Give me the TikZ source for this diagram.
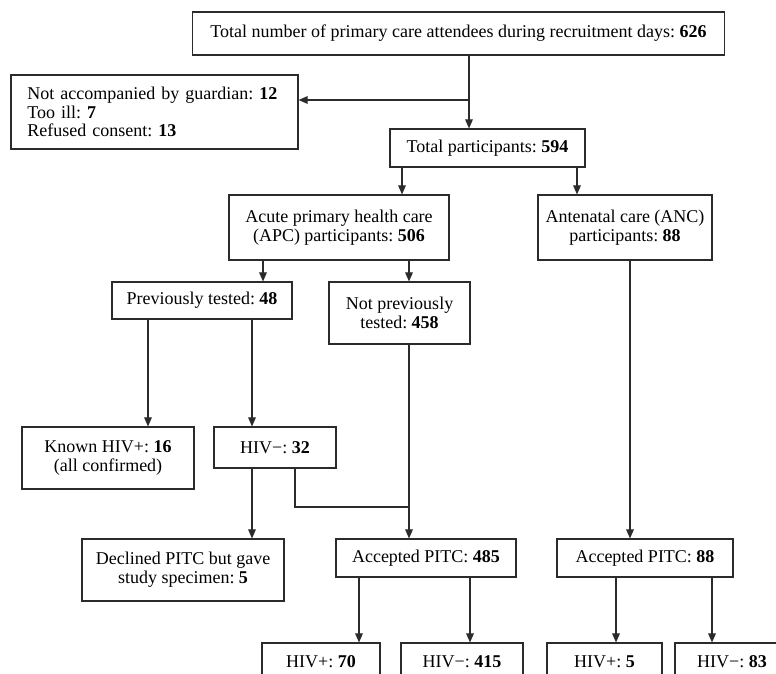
\documentclass[tikz,border=0pt]{standalone}
\usepackage{fontspec}
\setmainfont{Liberation Serif}
\usetikzlibrary{arrows.meta,positioning,calc}
\definecolor{boxline}{HTML}{2B2B2B}
\frenchspacing

\begin{document}
\begin{tikzpicture}[
		x=0.025cm,y=-0.025cm,
		box/.style={draw=boxline,line width=0.8pt,align=center,inner sep=2pt,font=\fontsize{12.8}{13.4}\selectfont},
		arr/.style={-{Triangle[length=6.5pt,width=5.5pt]},line width=0.8pt,boxline},
		ln/.style={line width=0.8pt,boxline}
		]
		\useasboundingbox (0,0) rectangle (776,673);
		\clip (0,0) rectangle (776,673);
		% boxes
		\node[box,minimum width=13.275cm,minimum height=1.075cm] (attend) at (458.5,33.5) {Total number of primary care attendees during recruitment days: \textbf{626}};
		\node[box,align=left,text width=6.35cm,inner xsep=0.4125cm,minimum height=1.85cm] (excl) at (154.5,112) {Not accompanied by guardian: \textbf{12}\\Too ill: \textbf{7}\\Refused consent: \textbf{13}};
		\node[box,minimum width=4.875cm,minimum height=0.95cm] (total) at (487.5,148) {Total participants: \textbf{594}};
		\node[box,minimum width=5.5cm,minimum height=1.625cm] (apc) at (339,227.5) {Acute primary health care\\(APC) participants: \textbf{506}};
		\node[box,minimum width=4.35cm,minimum height=1.625cm] (anc) at (625,227.5) {Antenatal care (ANC)\\participants: \textbf{88}};
		\node[box,minimum width=4.5cm,minimum height=0.925cm] (prev) at (202,300.5) {Previously tested: \textbf{48}};
		\node[box,minimum width=3.525cm,minimum height=1.55cm] (notprev) at (399.5,313) {Not previously\\tested: \textbf{458}};
		\node[box,minimum width=4.3cm,minimum height=1.55cm] (known) at (108,458) {Known HIV+: \textbf{16}\\(all confirmed)};
		\node[box,minimum width=3.05cm,minimum height=1.025cm] (neg32) at (275,447.5) {HIV−: \textbf{32}};
		\node[box,minimum width=5.05cm,minimum height=1.55cm] (decl) at (183,570) {Declined PITC but gave\\study specimen: \textbf{5}};
		\node[box,minimum width=4.5cm,minimum height=0.95cm] (acc1) at (426,558) {Accepted PITC: \textbf{485}};
		\node[box,minimum width=4.4cm,minimum height=0.95cm] (acc2) at (645,558) {Accepted PITC: \textbf{88}};
		\node[box,minimum width=2.95cm,minimum height=0.95cm] (pos70) at (321,662) {HIV+: \textbf{70}};
		\node[box,minimum width=3.05cm,minimum height=0.95cm] (neg415) at (462,662) {HIV−: \textbf{415}};
		\node[box,minimum width=2.875cm,minimum height=0.95cm] (pos5) at (604.5,662) {HIV+: \textbf{5}};
		\node[box,minimum width=2.85cm,minimum height=0.95cm] (neg83) at (732,662) {HIV−: \textbf{83}};
		% connector columns
		\coordinate (split) at (469,100);
		\coordinate (join) at (409,507);
		\foreach \n/\x in {apcx/402,ancx/577,prevx/263,notx/409,knownx/148,negx/252,joinx/295,anccol/630,pos70x/359,neg415x/470,pos5x/616,neg83x/712}
			\coordinate (\n) at (\x,0);
		% connectors
		\draw[ln] (attend.south -| split) -- (split);
		\draw[arr] (split) -- (split |- total.north);
		\draw[arr] (split) -- (split -| excl.east);
		\draw[arr] (total.south -| apcx) -- (apc.north -| apcx);
		\draw[arr] (total.south -| ancx) -- (anc.north -| ancx);
		\draw[arr] (apc.south -| prevx) -- (prev.north -| prevx);
		\draw[arr] (apc.south -| notx) -- (notprev.north -| notx);
		\draw[arr] (prev.south -| knownx) -- (known.north -| knownx);
		\draw[arr] (prev.south -| negx) -- (neg32.north -| negx);
		\draw[arr] (neg32.south -| negx) -- (decl.north -| negx);
		\draw[ln] (neg32.south -| joinx) |- (join);
		\draw[arr] (notprev.south -| notx) -- (acc1.north -| notx);
		\draw[arr] (anc.south -| anccol) -- (acc2.north -| anccol);
		\draw[arr] (acc1.south -| pos70x) -- (pos70.north -| pos70x);
		\draw[arr] (acc1.south -| neg415x) -- (neg415.north -| neg415x);
		\draw[arr] (acc2.south -| pos5x) -- (pos5.north -| pos5x);
		\draw[arr] (acc2.south -| neg83x) -- (neg83.north -| neg83x);
	\end{tikzpicture}
\end{document}
